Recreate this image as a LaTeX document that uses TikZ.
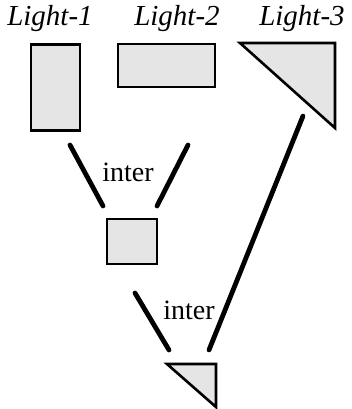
\documentclass[tikz,border=0pt]{standalone}
\usepackage{fontspec}
\setmainfont{Liberation Serif}
\begin{document}
\begin{tikzpicture}[x=1pt,y=-1pt,
  lbl/.style={font=\fontsize{29}{31}\selectfont\itshape, inner sep=0pt},
  intertext/.style={font=\fontsize{28}{30}\selectfont, inner sep=0pt},
  shade/.style={draw=black, line width=2.6pt, fill=black!10, line join=miter},
  link/.style={line width=4.8pt, line cap=round}]
\useasboundingbox (0,0) rectangle (351,409);

% titles
\node[lbl] (t1) at (50,19) {Light-1};
\node[lbl] (t2) at (177,19) {Light-2};
\node[lbl] (t3) at (302,19) {Light-3};

% light shapes
\node[shade, minimum width=49pt, minimum height=86pt, inner sep=0pt] (r1) at (55.5,87.5) {};
\node[shade, minimum width=97pt, minimum height=43pt, inner sep=0pt] (r2) at (166.5,65.5) {};
\draw[shade] (240,43) coordinate (a3) -- (335,43) coordinate (b3) -- (335,128) coordinate (c3) -- cycle;

% first combination
\coordinate (l1s) at (70,145);
\coordinate (l1e) at (103,206);
\coordinate (l2s) at (188,145);
\coordinate (l2e) at (157,206);
\draw[link] (l1s) -- (l1e);
\draw[link] (l2s) -- (l2e);
\node[intertext] (i1) at (128,172) {inter};
\node[shade, minimum width=50pt, minimum height=45pt, inner sep=0pt] (sq) at (132,241.5) {};

% second combination
\coordinate (l3s) at (135,293);
\coordinate (l3e) at (169,350);
\coordinate (l4s) at (303,116);
\coordinate (l4e) at (209,350);
\draw[link] (l3s) -- (l3e);
\draw[link] (l4s) -- (l4e);
\node[intertext] (i2) at (189,310) {inter};
\draw[shade] (167,364) coordinate (a4) -- (216,364) coordinate (b4) -- (216,407) coordinate (c4) -- cycle;
\end{tikzpicture}
\end{document}
